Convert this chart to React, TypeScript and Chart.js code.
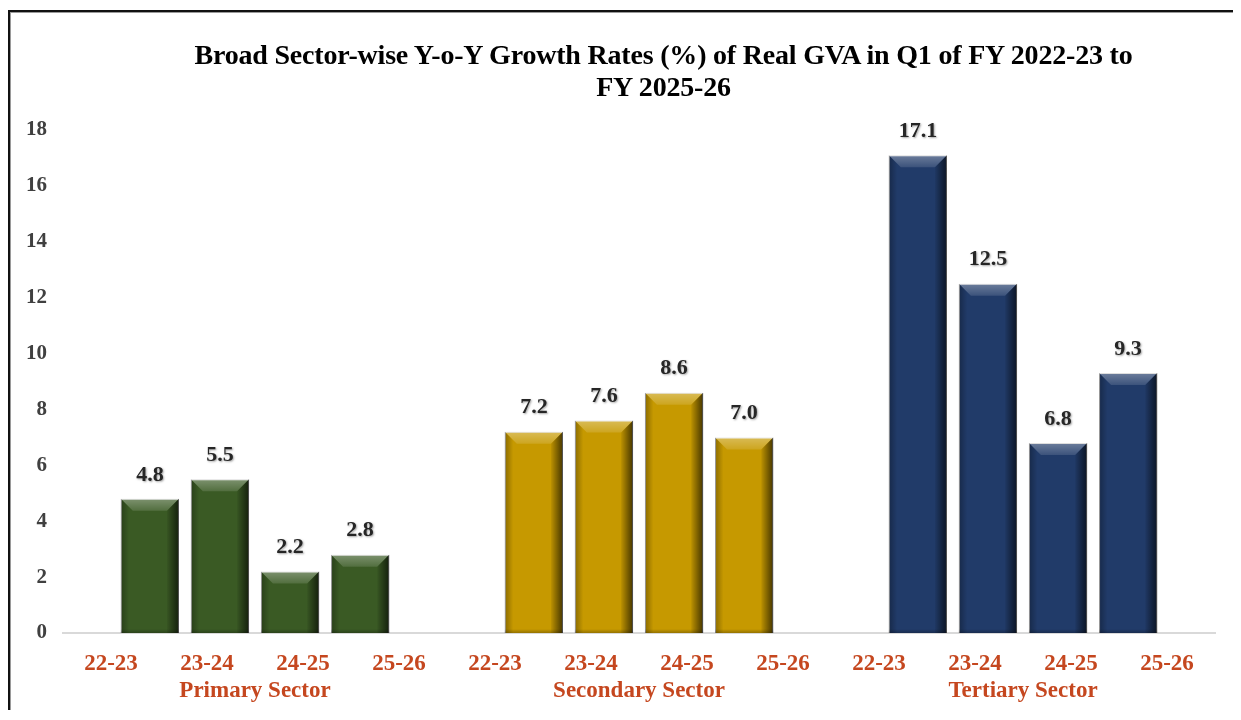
import React, { useEffect, useRef } from "react";
import { Chart, registerables } from "chart.js";

Chart.register(...registerables);

const sectors = ["Primary Sector", "Secondary Sector", "Tertiary Sector"];
const years = ["22-23", "23-24", "24-25", "25-26"];
const primary = [4.8, 5.5, 2.2, 2.8];
const secondary = [7.2, 7.6, 8.6, 7.0];
const tertiary = [17.1, 12.5, 6.8, 9.3];
const sectorColors = ["#3A5A24", "#C69900", "#213B69"];
const titleLines = [
  "Broad Sector-wise Y-o-Y Growth Rates (%) of Real GVA in Q1 of FY 2022-23 to",
  "FY 2025-26",
];
const yMin = 0;
const yMax = 18;
const yStep = 2;

const LABEL_COLOR = "#C5471F";
const SERIF = "'Liberation Serif', 'Times New Roman', serif";

const bevelPlugin = {
  id: "bevelAndLabels",
  afterDatasetsDraw(chart: any) {
    const ctx = chart.ctx as CanvasRenderingContext2D;
    chart.data.datasets.forEach((ds: any, di: number) => {
      const meta = chart.getDatasetMeta(di);
      meta.data.forEach((bar: any, i: number) => {
        const { x, y, base, width } = bar.getProps(["x", "y", "base", "width"], true);
        const left = x - width / 2;
        const right = x + width / 2;
        const h = base - y;
        const b = Math.min(12, h / 3);
        ctx.save();
        // top bevel (highlight)
        let g = ctx.createLinearGradient(0, y, 0, y + b);
        g.addColorStop(0, "rgba(255,255,255,0.34)");
        g.addColorStop(1, "rgba(255,255,255,0.12)");
        ctx.fillStyle = g;
        ctx.beginPath();
        ctx.moveTo(left, y);
        ctx.lineTo(right, y);
        ctx.lineTo(right - b, y + b);
        ctx.lineTo(left + b, y + b);
        ctx.closePath();
        ctx.fill();
        // right side shadow
        g = ctx.createLinearGradient(right - b, 0, right, 0);
        g.addColorStop(0, "rgba(0,0,0,0.05)");
        g.addColorStop(1, "rgba(0,0,0,0.65)");
        ctx.fillStyle = g;
        ctx.beginPath();
        ctx.moveTo(right, y);
        ctx.lineTo(right, base);
        ctx.lineTo(right - b, base);
        ctx.lineTo(right - b, y + b);
        ctx.closePath();
        ctx.fill();
        // left side subtle shade
        g = ctx.createLinearGradient(left, 0, left + b * 0.7, 0);
        g.addColorStop(0, "rgba(0,0,0,0.3)");
        g.addColorStop(1, "rgba(0,0,0,0)");
        ctx.fillStyle = g;
        ctx.beginPath();
        ctx.moveTo(left, y);
        ctx.lineTo(left + b * 0.7, y + b * 0.7);
        ctx.lineTo(left + b * 0.7, base);
        ctx.lineTo(left, base);
        ctx.closePath();
        ctx.fill();
        // bottom edge shade
        g = ctx.createLinearGradient(0, base - 4, 0, base);
        g.addColorStop(0, "rgba(0,0,0,0)");
        g.addColorStop(1, "rgba(0,0,0,0.25)");
        ctx.fillStyle = g;
        ctx.fillRect(left, base - 4, width, 4);
        // value label
        ctx.font = `bold 22px ${SERIF}`;
        ctx.textAlign = "center";
        ctx.textBaseline = "middle";
        ctx.shadowColor = "rgba(0,0,0,0.35)";
        ctx.shadowOffsetX = 1;
        ctx.shadowOffsetY = 1;
        ctx.shadowBlur = 2;
        ctx.fillStyle = "#262626";
        ctx.fillText(Number(ds.data[i]).toFixed(1), x, y - 24);
        ctx.restore();
      });
    });
  },
};

export default function App() {
  const ref = useRef<HTMLCanvasElement | null>(null);

  useEffect(() => {
    if (!ref.current) return;
    const datasets = years.map((yr, j) => ({
      label: yr,
      data: [primary[j], secondary[j], tertiary[j]],
      backgroundColor: sectorColors,
      borderColor: "rgba(200,200,200,0.9)",
      borderWidth: 1,
      categoryPercentage: 0.73,
      barPercentage: 0.83,
    }));
    const chart = new Chart(ref.current, {
      type: "bar",
      data: { labels: sectors, datasets },
      options: {
        animation: false,
        responsive: true,
        maintainAspectRatio: false,
        layout: { padding: { top: 118, right: 18, bottom: 0, left: 0 } },
        plugins: {
          legend: { display: false },
          tooltip: { enabled: false },
          title: { display: false },
        },
        scales: {
          x: {
            type: "category",
            position: "bottom",
            weight: 1,
            grid: { display: false, drawTicks: false },
            border: { display: false },
            ticks: {
              color: LABEL_COLOR,
              padding: 0,
              font: { family: SERIF, size: 23, weight: "bold" },
            },
            afterFit: (s: any) => {
              s.height = 35;
            },
          },
          x2: {
            type: "category",
            position: "bottom",
            weight: 0,
            offset: true,
            labels: sectors.flatMap(() => years),
            grid: { display: false, drawTicks: false },
            border: { display: true, color: "#D9D9D9", width: 2 },
            ticks: {
              color: LABEL_COLOR,
              padding: 17,
              autoSkip: false,
              maxRotation: 0,
              font: { family: SERIF, size: 23, weight: "bold" },
            },
            afterFit: (s: any) => {
              s.height = 44;
            },
          },
          y: {
            min: yMin,
            max: yMax,
            grid: { display: false, drawTicks: false },
            border: { display: false },
            ticks: {
              stepSize: yStep,
              padding: 16,
              color: "#404040",
              font: { family: SERIF, size: 21, weight: "bold" },
            },
            afterFit: (s: any) => {
              s.width = 53;
            },
          },
        },
      },
      plugins: [bevelPlugin],
    });
    return () => {
      chart.destroy();
    };
  }, []);

  return (
    <div
      style={{
        position: "relative",
        marginTop: 2,
        marginRight: -8,
        marginBottom: -8,
        borderTop: "2px solid #111",
        borderLeft: "2px solid #111",
        boxShadow: "inset 1px 1px 0 #9a9a9a",
        height: 706,
        overflow: "hidden",
      }}
    >
      <div style={{ position: "relative", width: 1223, height: 700 }}>
        <canvas ref={ref} />
      </div>
      <div
        style={{
          position: "absolute",
          top: 27,
          left: 0,
          width: 1223,
          paddingLeft: 84,
          boxSizing: "border-box",
          textAlign: "center",
          fontFamily: SERIF,
          fontWeight: "bold",
          fontSize: 28,
          lineHeight: "32px",
          color: "#000",
          letterSpacing: "-0.2px",
          whiteSpace: "nowrap",
          pointerEvents: "none",
        }}
      >
        {titleLines.map((t, i) => (
          <div key={i}>{t}</div>
        ))}
      </div>
    </div>
  );
}
